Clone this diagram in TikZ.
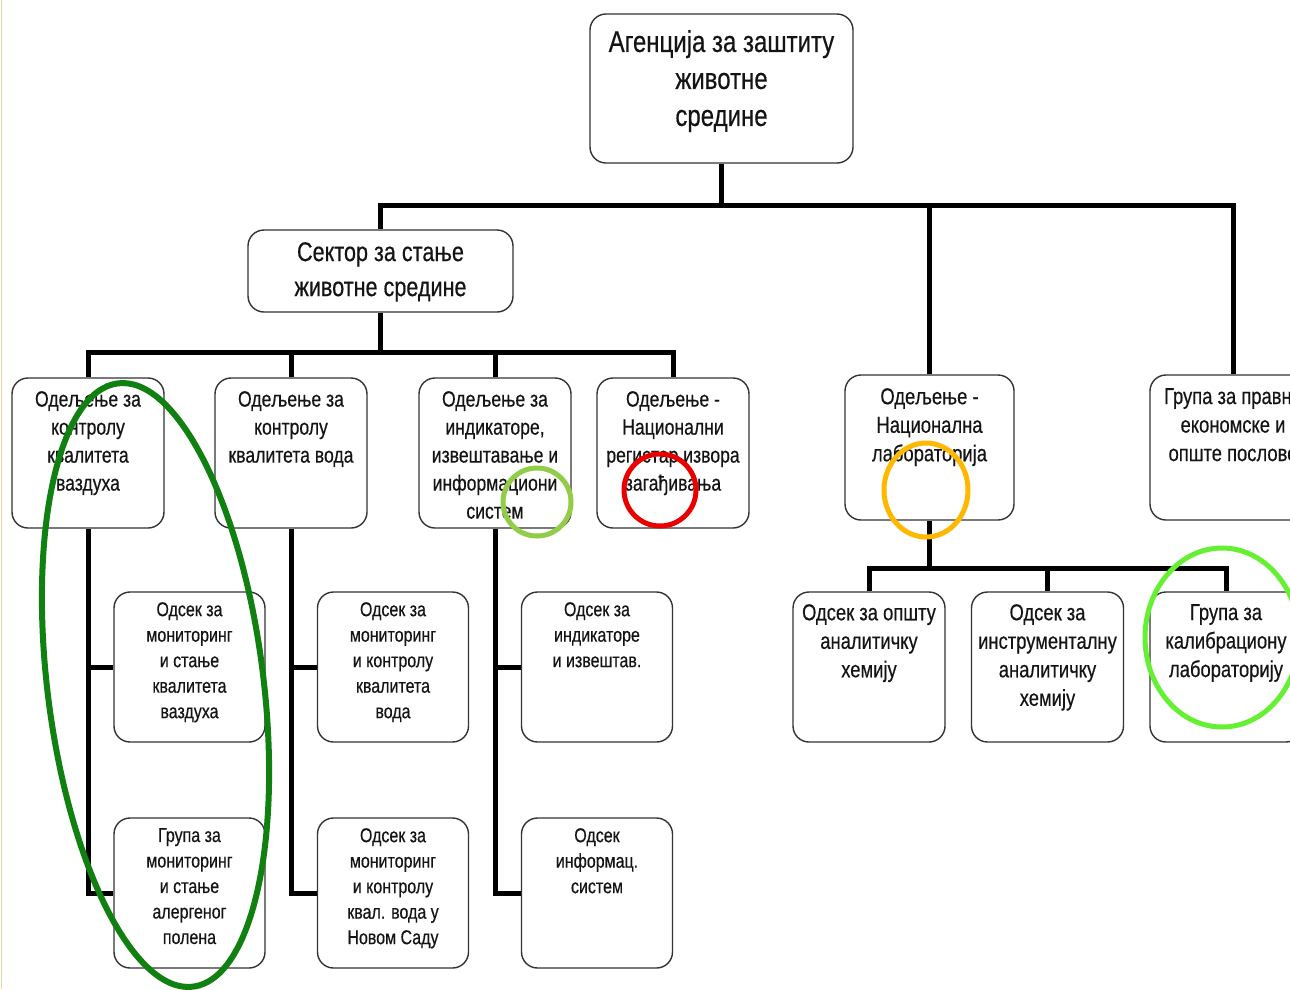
\documentclass[tikz,border=0pt]{standalone}
\usepackage{fontspec}
\setmainfont{Liberation Sans}[FakeStretch=0.8,FakeBold=0.4]
\definecolor{annDark}{RGB}{16,128,16}
\definecolor{annYG}{RGB}{146,204,72}
\definecolor{annRed}{RGB}{235,0,0}
\definecolor{annOrange}{RGB}{255,184,0}
\definecolor{annBright}{RGB}{102,240,51}
\definecolor{edgeTan}{RGB}{232,215,165}
\begin{document}
\begin{tikzpicture}[x=1pt,y=-1pt,
  box/.style={draw=black!80, line width=1.4pt, fill=white, rounded corners=16pt, inner sep=0pt},
  dbox/.style={box, minimum width=152pt, minimum height=150pt},
  sbox/.style={box, minimum width=151pt, minimum height=150pt},
  conn/.style={line width=5pt, draw=black},
  txt/.style={inner sep=0pt, anchor=north, align=center, text=black!92},
  tA/.style={txt, font=\fontsize{30}{37}\selectfont},
  tB/.style={txt, font=\fontsize{27}{35}\selectfont},
  tC/.style={txt, font=\fontsize{22}{28}\selectfont},
  tD/.style={txt, font=\fontsize{20}{25.5}\selectfont},
  tE/.style={txt, font=\fontsize{23}{28.5}\selectfont},
  ann/.style={line width=5pt}
]
\useasboundingbox (0,0) rectangle (1290,989);
\fill[white] (0,0) rectangle (1290,989);
\clip (0,0) rectangle (1290,989);
\draw[edgeTan, line width=1pt] (1,0) -- (1,989);

% bar levels
\coordinate (barA) at (0,205);
\coordinate (barB) at (0,352);
\coordinate (barC) at (0,568);

% boxes
\node[box, minimum width=263pt, minimum height=149pt] (top) at (721.5,88.5) {};
\node[box, minimum width=265pt, minimum height=82pt] (sec) at (380.5,271) {};
\node[dbox] (d1) at (88,453) {};
\node[dbox] (d2) at (291,453) {};
\node[dbox] (d3) at (495,453) {};
\node[dbox] (d4) at (673,453) {};
\node[box, minimum width=169pt, minimum height=145pt] (nat) at (929.5,447.5) {};
\node[box, minimum width=166pt, minimum height=145pt] (grp) at (1233,447.5) {};
\node[sbox] (s11) at (189.5,667) {};
\node[sbox] (s12) at (189.5,893) {};
\node[sbox] (s21) at (393,667) {};
\node[sbox] (s22) at (393,893) {};
\node[sbox] (s31) at (597,667) {};
\node[sbox] (s32) at (597,893) {};
\node[dbox] (n1) at (869,667) {};
\node[dbox] (n2) at (1047.5,667) {};
\node[dbox] (n3) at (1226,667) {};

% connectors
\draw[conn] (top.south) -- (top.south |- barA);
\draw[conn] (sec.north) -- (sec.north |- barA) -- (grp.north |- barA) -- (grp.north);
\draw[conn] (nat.north) -- (nat.north |- barA);
\draw[conn] (sec.south) -- (sec.south |- barB);
\draw[conn] (d1.north) -- (d1.north |- barB) -- (d4.north |- barB) -- (d4.north);
\draw[conn] (d2.north) -- (d2.north |- barB);
\draw[conn] (d3.north) -- (d3.north |- barB);
\draw[conn] (d1.south) |- (s12.west);
\draw[conn] (d1.south |- s11.west) -- (s11.west);
\draw[conn] (d2.south) |- (s22.west);
\draw[conn] (d2.south |- s21.west) -- (s21.west);
\draw[conn] (d3.south) |- (s32.west);
\draw[conn] (d3.south |- s31.west) -- (s31.west);
\draw[conn] (nat.south) -- (nat.south |- barC);
\draw[conn] (n1.north) -- (n1.north |- barC) -- (n3.north |- barC) -- (n3.north);
\draw[conn] (n2.north) -- (n2.north |- barC);

% texts
\node[tA] (topt) at (721.5,30) {Агенција за заштиту\\животне\\средине};
\node[tB] (sect) at (380.5,242) {Сектор за стање\\животне средине};
\node[tC] (d1t) at (88,391) {Одељење за\\контролу\\квалитета\\ваздуха};
\node[tC] (d2t) at (291,391) {Одељење за\\контролу\\квалитета вода};
\node[tC] (d3t) at (495,391) {Одељење за\\индикаторе,\\извештавање и\\информациони\\систем};
\node[tC] (d4t) at (673,391) {Одељење -\\Национални\\регистар извора\\загађивања};
\node[tE] (natt) at (929.5,388) {Одељење -\\Национална\\лабораторија};
\node[tE] (grpt) at (1233,388) {Група за правне\\економске и\\опште послове};
\node[tD] (s11t) at (189.5,602) {Одсек за\\мониторинг\\и стање\\квалитета\\ваздуха};
\node[tD] (s12t) at (189.5,828) {Група за\\мониторинг\\и стање\\алергеног\\полена};
\node[tD] (s21t) at (393,602) {Одсек за\\мониторинг\\и контролу\\квалитета\\вода};
\node[tD] (s22t) at (393,828) {Одсек за\\мониторинг\\и контролу\\квал. вода у\\Новом Саду};
\node[tD] (s31t) at (597,602) {Одсек за\\индикаторе\\и извештав.};
\node[tD] (s32t) at (597,828) {Одсек\\информац.\\систем};
\node[tE] (n1t) at (869,604) {Одсек за општу\\аналитичку\\хемију};
\node[tE] (n2t) at (1047.5,604) {Одсек за\\инструменталну\\аналитичку\\хемију};
\node[tE] (n3t) at (1226,604) {Група за\\калибрациону\\лабораторију};

% annotations
\draw[ann, annDark, line width=6pt, rotate around={7.1:(155.5,685)}] (155.5,685) ellipse [x radius=108, y radius=304];
\draw[ann, annYG] (537,502) circle [radius=34];
\draw[ann, annRed] (660,490) circle [radius=36];
\draw[ann, annOrange] (926,490) ellipse [x radius=42, y radius=47];
\draw[ann, annBright] (1222,637.5) ellipse [x radius=77, y radius=89.5];
\end{tikzpicture}
\end{document}
